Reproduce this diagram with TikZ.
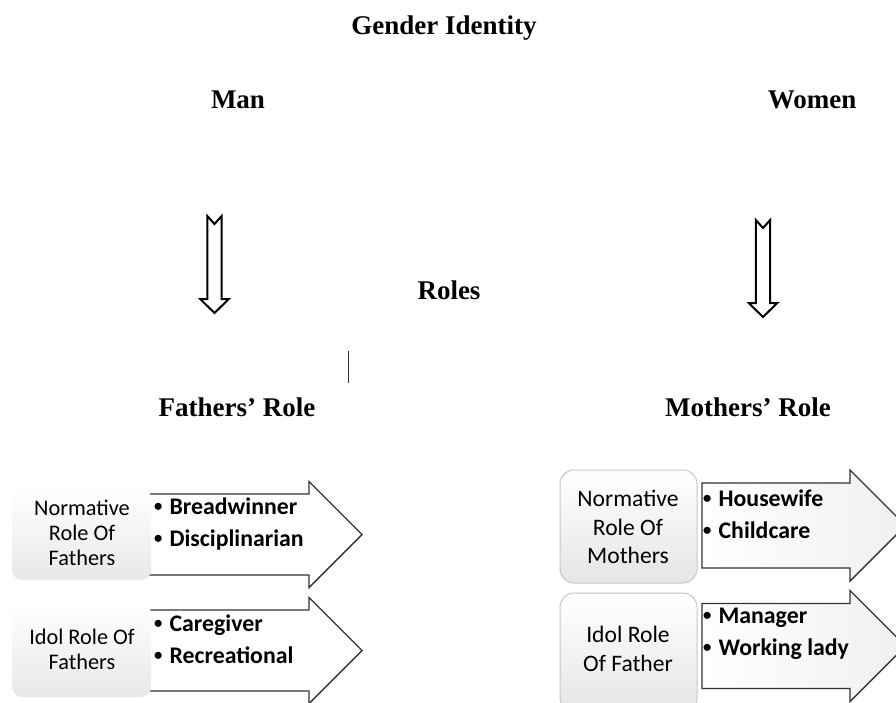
\documentclass[tikz,border=0pt]{standalone}
\usepackage{fontspec}
\setmainfont{Liberation Serif}
\newfontfamily\calibri{Carlito}
\usepackage{tikz}
\usetikzlibrary{positioning}

\newcommand{\smallbullet}{\raisebox{0.12em}{\scalebox{0.7}{\textbullet}}\hspace{0.3em}}

\tikzset{
  heading/.style={font=\fontsize{27}{32}\selectfont\bfseries, inner sep=0pt},
  rolelabel/.style={font=\calibri\fontsize{22.3}{25}\selectfont, align=center, inner sep=0pt},
  rolelabelm/.style={font=\calibri\fontsize{23.6}{28.5}\selectfont, align=center, inner sep=0pt},
  bulletlist/.style={font=\calibri\bfseries\fontsize{23.8}{32}\selectfont, align=left, anchor=west, inner sep=0pt},
  blockline/.style={draw=black!80, line width=1.4pt, line join=miter},
  downarrow/.style={draw=black, line width=2pt, fill=white, line join=miter},
}

\begin{document}
\begin{tikzpicture}[x=1pt,y=-1pt]
  \useasboundingbox (0,0) rectangle (896,702);
  \clip (0,0) rectangle (896,702);

  % headings
  \node[heading] (gender) at (444,28) {Gender Identity};
  \node[heading] (man) at (238,100) {Man};
  \node[heading] (women) at (812,100) {Women};
  \node[heading] (roles) at (449,290) {Roles};
  \node[heading] (fatherrole) at (237,407) {Fathers’ Role};
  \node[heading] (motherrole) at (748,407) {Mothers’ Role};

  % hollow down arrows
  \begin{scope}[shift={(214.5,216)}]
    \draw[downarrow] (-7.2,0) -- (0,8) -- (7.2,0) -- (7.2,83) -- (14.3,83)
      -- (0,97) -- (-14.3,83) -- (-7.2,83) -- cycle;
  \end{scope}
  \begin{scope}[shift={(763,220)}]
    \draw[downarrow] (-7.2,0) -- (0,8) -- (7.2,0) -- (7.2,83) -- (14.3,83)
      -- (0,97) -- (-14.3,83) -- (-7.2,83) -- cycle;
  \end{scope}
  \draw[line width=1.5pt, black!80] (348.3,351) -- (348.3,383);

  % fathers: block arrows and boxes
  \foreach \dy in {0,116} {
    \begin{scope}[shift={(0,\dy)}]
      \draw[blockline, fill=white] (148,494) -- (309,494) -- (309,481.5) -- (362,534.5)
        -- (309,587.5) -- (309,575) -- (148,575) -- cycle;
    \end{scope}
  }
  \shade[rounded corners=10pt, top color=white, middle color=white, bottom color=black!9]
    (12,488) rectangle (151,580);
  \shade[rounded corners=10pt, top color=white, middle color=white, bottom color=black!9]
    (12,603) rectangle (151,697);
  \node[rolelabel] (normf) at (82,533) {Normative\\Role Of\\Fathers};
  \node[rolelabel] (idolf) at (82,649) {Idol Role Of\\Fathers};
  \node[bulletlist] (listnf) at (154,524) {\smallbullet Breadwinner\\\smallbullet Disciplinarian};
  \node[bulletlist] (listif) at (154,639) {\smallbullet Caregiver\\\smallbullet Recreational};

  % mothers: boxes and block arrows
  \draw[draw=black!22, line width=1pt, rounded corners=14pt, top color=white,
    middle color=white, bottom color=black!10] (560,470) rectangle (697,583);
  \draw[draw=black!22, line width=1pt, rounded corners=14pt, top color=white,
    middle color=white, bottom color=black!10] (560,593) rectangle (697,712);
  \foreach \dy in {0,120.5} {
    \begin{scope}[shift={(0,\dy)}]
      \draw[blockline, left color=white, right color=black!6] (702,483) -- (850,483)
        -- (850,470) -- (905.5,525.5) -- (850,581) -- (850,568) -- (702,568) -- cycle;
    \end{scope}
  }
  \node[rolelabelm] (normm) at (628,527) {Normative\\Role Of\\Mothers};
  \node[rolelabelm] (idolm) at (628,649) {Idol Role\\Of Father};
  \node[bulletlist] (listnm) at (703,514) {\smallbullet Housewife\\\smallbullet Childcare};
  \node[bulletlist] (listim) at (703,634) {\smallbullet Manager\\\smallbullet Working lady};
\end{tikzpicture}
\end{document}
